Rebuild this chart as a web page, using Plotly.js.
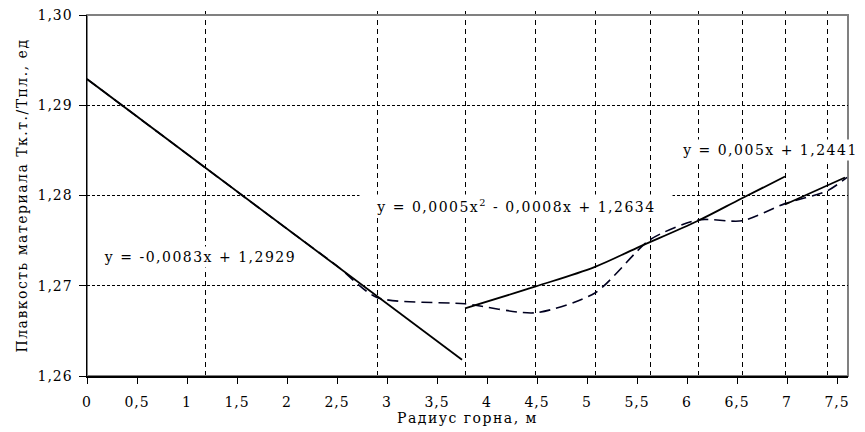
<!DOCTYPE html>
<html><head><meta charset="utf-8">
<script src="https://cdn.plot.ly/plotly-3.0.1.min.js"></script>
<style>
body{margin:0;background:#fff}
.annotation-text{letter-spacing:1.5px}
.xtick text,.ytick text{letter-spacing:1px}
.g-xtitle text,.g-ytitle text{letter-spacing:1.5px}
.shapelayer path,.gridlayer path{shape-rendering:crispEdges}
</style></head>
<body><div id="chart" style="width:865px;height:432px"></div>
<script>
// measured series (dashed curve)
const dataX = [0, 1.18, 2.00, 2.50, 2.90, 3.78, 4.48, 5.08, 5.63, 6.11, 6.55, 6.98, 7.40, 7.60];
const dataY = [1.2929, 1.2831, 1.2763, 1.2722, 1.2687, 1.2680, 1.2670, 1.2692, 1.2751, 1.2773, 1.2772, 1.2791, 1.2805, 1.2820];
// trend lines
const lin1X = [0, 3.75];
const lin1Y = [1.2929, 1.2618];
const quadX = [3.78, 4.48, 5.08, 5.50, 6.11, 6.55, 6.98];
const quadY = [1.2675, 1.2699, 1.2721, 1.2742, 1.2772, 1.2797, 1.2821];
const lin2X = [6.98, 7.58];
const lin2Y = [1.2790, 1.2820];
// vertical drop lines at measurement points
const dropX = [1.18, 2.90, 3.78, 4.48, 5.08, 5.63, 6.11, 6.55, 6.98, 7.40];
const eqLabels = ["y = -0,0083x + 1,2929", "y = 0,0005x<sup>2</sup> - 0,0008x + 1,2634", "y = 0,005x + 1,2441"];
const xTitle = "Радиус горна, м";
const yTitle = "Плавкость материала Тк.т./Тпл., ед";

const FONT = "DejaVu Serif";
const traces = [
  {x: dataX, y: dataY, mode: 'lines', line: {color: '#000020', width: 1.6, dash: '11px,6px', shape: 'spline', smoothing: 0.7}, hoverinfo: 'skip'},
  {x: lin1X, y: lin1Y, mode: 'lines', line: {color: '#000', width: 1.8}},
  {x: quadX, y: quadY, mode: 'lines', line: {color: '#000', width: 1.8, shape: 'spline'}},
  {x: lin2X, y: lin2Y, mode: 'lines', line: {color: '#000', width: 1.8}}
];
const shapes = dropX.map(v => ({type: 'line', xref: 'x', yref: 'paper', x0: v, x1: v, y0: 0, y1: 1.015, layer: 'below', line: {color: '#000', width: 1, dash: '5px,4px'}}));
shapes.push({type: 'rect', xref: 'paper', yref: 'paper', x0: 0, x1: 1, y0: 0, y1: 1, layer: 'below', line: {color: '#808080', width: 1.5}});
const annotations = [
  {x: 1.13, y: 1.2732, text: eqLabels[0], width: 196},
  {x: 4.29, y: 1.2788, text: eqLabels[1], width: 308},
  {x: 6.83, y: 1.2850, text: eqLabels[2], width: 178}
].map(a => Object.assign(a, {xref: 'x', yref: 'y', showarrow: false, bgcolor: '#fff', font: {family: FONT, size: 14, color: '#000'}, borderpad: 2, align: 'center'}));

const layout = {
  width: 865, height: 432,
  margin: {l: 87, r: 17, t: 15, b: 56},
  paper_bgcolor: '#fff', plot_bgcolor: '#fff',
  separators: ', ',
  showlegend: false,
  font: {family: FONT, size: 14, color: '#000'},
  xaxis: {range: [0, 7.61], dtick: 0.5, tick0: 0, ticks: 'outside', ticklen: 6, tickcolor: '#000', showgrid: false, zeroline: false,
          showline: true, linecolor: '#000', linewidth: 1.5, tickfont: {family: FONT, size: 14}, ticklabelstandoff: 7,
          title: {text: xTitle, font: {family: FONT, size: 14}, standoff: 4}},
  yaxis: {range: [1.26, 1.30], dtick: 0.01, tick0: 1.26, tickformat: '.2f', ticks: 'outside', ticklen: 7, tickcolor: '#000',
          showgrid: true, gridcolor: '#000', gridwidth: 1, griddash: '3px,2px', zeroline: false,
          showline: true, linecolor: '#000', linewidth: 1.5, tickfont: {family: FONT, size: 14}, ticklabelstandoff: 3,
          title: {text: yTitle, font: {family: FONT, size: 14}, standoff: 6}},
  shapes: shapes,
  annotations: annotations
};
Plotly.newPlot('chart', traces, layout, {staticPlot: true});
</script></body></html>
